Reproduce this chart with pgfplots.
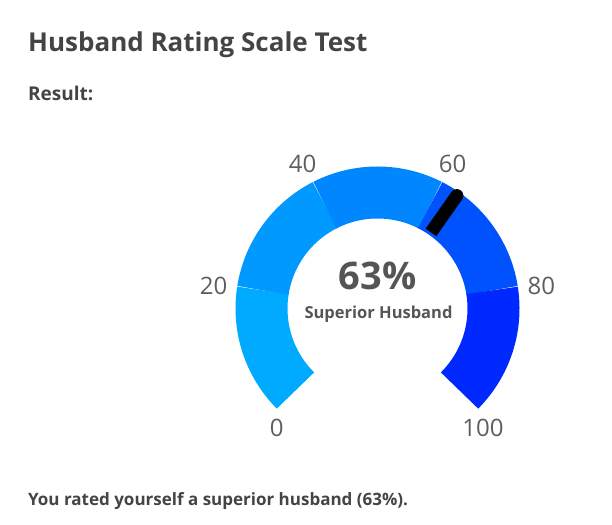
\documentclass[border=0pt]{standalone}
\usepackage{pgfplots}
\pgfplotsset{compat=1.18}
\usepackage{fontspec}
\setmainfont{Open Sans}
\definecolor{titlec}{HTML}{444444}
\definecolor{labc}{HTML}{555555}
\definecolor{tickc}{HTML}{5E5E5E}
\definecolor{gA}{HTML}{00AAFF}
\definecolor{gB}{HTML}{0099FF}
\definecolor{gC}{HTML}{0086FF}
\definecolor{gD}{HTML}{0052FF}
\definecolor{gE}{HTML}{0029FF}
% gauge geometry (pt): centre, ring mid radius, ring width
\def\cx{377.5}
\def\cy{215.5}
\newcommand{\gaugeseg}[3]{%
  \draw[#3, line width=52pt] (axis cs:\cx,\cy) ++({225-2.7*#1}:116pt)
    arc[start angle={225-2.7*#1}, end angle={225-2.7*#2}, radius=116pt];}
\newcommand{\ticklab}[3]{%
  \node[font=\fontsize{24}{28}\selectfont, text=tickc, inner sep=0pt] at (axis cs:#1,#2) {#3};}
\begin{document}
\begin{tikzpicture}
\path (0,0) rectangle (612pt,524pt);
\begin{axis}[at={(0,0)}, anchor=south west, scale only axis,
  width=612pt, height=524pt, xmin=0, xmax=612, ymin=0, ymax=524,
  hide axis, clip=false]
% gauge segments: value ranges 0-20, 20-40, 40-60, 60-80, 80-100
\gaugeseg{0}{20}{gA}
\gaugeseg{20}{40}{gB}
\gaugeseg{40}{60}{gC}
\gaugeseg{60}{80}{gD}
\gaugeseg{80}{100}{gE}
% needle at 63
\draw[black, line width=13pt] (axis cs:\cx,\cy) ++({225-2.7*63}:93pt) -- ++({225-2.7*63}:45pt);
\fill[black] (axis cs:\cx,\cy) ++({225-2.7*63}:138pt) circle[radius=6.5pt];
% tick labels
\ticklab{276.7}{95.7}{0}
\ticklab{213.7}{238}{20}
\ticklab{302.5}{360.3}{40}
\ticklab{452.5}{360.3}{60}
\ticklab{541.3}{238}{80}
\ticklab{483}{95.7}{100}
% centre text
\node[anchor=base, font=\fontsize{38}{42}\selectfont\bfseries, text=labc, inner sep=0pt] at (axis cs:377.5,234.7) {63\%};
\node[anchor=base, font=\fontsize{16.5}{20}\selectfont\bfseries, text=labc, inner sep=0pt] at (axis cs:378.5,205.7) {Superior Husband};
% texts
\node[anchor=base west, font=\fontsize{26}{31}\selectfont\bfseries, text=titlec, inner sep=0pt] at (axis cs:28,472.5) {Husband Rating Scale Test};
\node[anchor=base west, font=\fontsize{19}{23}\selectfont\bfseries, text=titlec, inner sep=0pt] at (axis cs:28,423) {Result:};
\node[anchor=base west, font=\fontsize{17}{21}\selectfont\bfseries, text=titlec, inner sep=0pt] at (axis cs:28,19) {You rated yourself a superior husband (63\%).};
\end{axis}
\end{tikzpicture}
\end{document}
